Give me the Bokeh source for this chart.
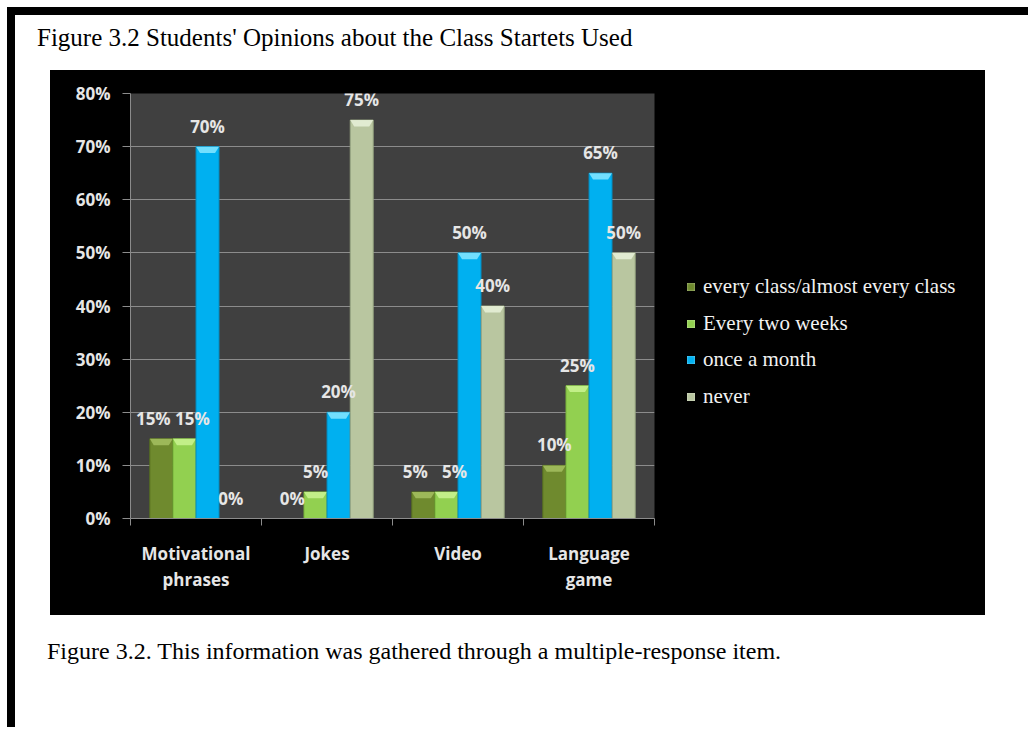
from bokeh.plotting import figure
from bokeh.models import (ColumnDataSource, Range1d, FixedTicker, NumeralTickFormatter,
                          Div, LabelSet)
from bokeh.layouts import column, row
from bokeh.core.properties import value
from bokeh.embed import file_html
from bokeh.resources import INLINE

# ---- data ----
title_text = "Figure 3.2 Students' Opinions about the Class Startets Used"
caption_text = "Figure 3.2. This information was gathered through a multiple-response item."
categories = ["Motivational\nphrases", "Jokes", "Video", "Language\ngame"]
series_names = ["every class/almost every class", "Every two weeks", "once a month", "never"]
every_class = [15, 0, 5, 10]
every_two_weeks = [15, 5, 5, 25]
once_a_month = [70, 20, 50, 65]
never = [0, 75, 40, 50]
y_ticks = [0, 10, 20, 30, 40, 50, 60, 70, 80]

series_values = [every_class, every_two_weeks, once_a_month, never]
colors = ["#6f8a2e", "#92d050", "#00b0f0", "#b9c6a0"]
top_colors = ["#a2bd5e", "#c8f28e", "#7ee4ff", "#e6eed6"]
edge_colors = ["#56701f", "#78b23a", "#0092c8", "#98a682"]

LABEL_FONT = "Open Sans"
TXT = "#e6e6e6"

# ---- main chart ----
p = figure(width=610, height=545, x_range=Range1d(0, 4), y_range=Range1d(0, 0.8),
           output_backend="svg", toolbar_location=None,
           min_border_left=80, min_border_right=6, min_border_top=23, min_border_bottom=97,
           background_fill_color="#404040", border_fill_color="black",
           outline_line_color=None, margin=(0, 0, 0, 0))

bar_w = 0.175
offsets = [-0.265, -0.088, 0.088, 0.265]
for k, vals in enumerate(series_values):
    xs = [i + 0.5 + offsets[k] for i in range(len(categories))]
    tops = [v / 100 for v in vals]
    # nudge labels apart where two neighbouring bars have the same height
    nudges = []
    for i, v in enumerate(vals):
        n = 0
        if k + 1 < len(series_values) and series_values[k + 1][i] == v and v > 0:
            n = -8
        if k > 0 and series_values[k - 1][i] == v and v > 0:
            n = 8
        nudges.append(n)
    src = ColumnDataSource(dict(x=xs, top=tops, label=[f"{v}%" for v in vals], dx=nudges))
    p.vbar(x="x", top="top", width=bar_w, source=src, fill_color=colors[k],
           line_color=edge_colors[k], line_width=1)
    # bevel on top of each bar
    txs = [[x - bar_w / 2, x + bar_w / 2, x + bar_w / 2 - 0.03, x - bar_w / 2 + 0.03] for x in xs]
    tys = [[t, t, t - 0.012, t - 0.012] for t in tops]
    p.patches(txs, tys, fill_color=top_colors[k], line_color=None, fill_alpha=0.9)
    p.add_layout(LabelSet(x="x", y="top", text="label", source=src, text_align="center",
                          text_baseline="alphabetic", y_offset=14, x_offset="dx",
                          text_font=value(LABEL_FONT), text_font_style="bold",
                          text_font_size="17px", text_color=TXT))

# axes
p.xaxis.ticker = FixedTicker(ticks=[i + 0.5 for i in range(len(categories))],
                             minor_ticks=list(range(len(categories) + 1)))
p.xaxis.major_label_overrides = {i + 0.5: c for i, c in enumerate(categories)}
p.xaxis.major_tick_line_color = None
p.xaxis.major_tick_out = 0
p.xaxis.minor_tick_line_color = "#8c8c8c"
p.xaxis.minor_tick_out = 7
p.xaxis.minor_tick_in = 0
p.xaxis.axis_line_color = "#8c8c8c"
p.xaxis.major_label_standoff = 16
p.xaxis.major_label_text_font = LABEL_FONT
p.xaxis.major_label_text_font_style = "bold"
p.xaxis.major_label_text_font_size = "17px"
p.xaxis.major_label_text_color = TXT
p.xaxis.major_label_text_line_height = 1.17

p.yaxis.ticker = FixedTicker(ticks=[t / 100 for t in y_ticks])
p.yaxis.formatter = NumeralTickFormatter(format="0%")
p.yaxis.major_tick_out = 8
p.yaxis.major_tick_in = 0
p.yaxis.minor_tick_line_color = None
p.yaxis.major_tick_line_color = "#8c8c8c"
p.yaxis.axis_line_color = "#8c8c8c"
p.yaxis.major_label_standoff = 12
p.yaxis.major_label_text_font = LABEL_FONT
p.yaxis.major_label_text_font_style = "bold"
p.yaxis.major_label_text_font_size = "17px"
p.yaxis.major_label_text_color = TXT

p.xgrid.grid_line_color = None
p.ygrid.grid_line_color = "#8c8c8c"

# ---- legend (right, black part of the chart area) ----
legend_rows = []
for k, name in enumerate(series_names):
    c = 217 + round(k * 36.7)
    legend_rows.append(
        '<div style="position:absolute;left:27px;top:' + str(c - 4) + 'px;width:8px;height:8px;'
        'background:' + colors[k] + ';box-shadow:inset 0 0 2px rgba(255,255,255,0.6);"></div>'
        '<div style="position:absolute;left:43px;top:' + str(c - 13) + 'px;line-height:24px;'
        'font-family:\'Liberation Serif\',serif;font-size:21px;color:#f2f2f2;white-space:nowrap;">'
        + name + '</div>')
legend_div = Div(text='<div style="position:relative;width:325px;height:545px;background:#000;">'
                 + "".join(legend_rows) + '</div>',
                 width=325, height=545, margin=(0, 0, 0, 0),
                 styles={"background-color": "black"})


def text_div(s, size, margin):
    html = ('<div style="font-family:\'Liberation Serif\',serif;font-size:' + str(size) + 'px;'
            'line-height:28px;color:#000;white-space:nowrap;">' + s + '</div>')
    return Div(text=html, width=950, height=28, margin=margin)


title_div = text_div(title_text, 25, (9, 0, 0, 22))
caption_div = text_div(caption_text, 24, (22, 0, 0, 32))

chart = row(p, legend_div, margin=(18, 0, 0, 35), styles={"background-color": "black"})

top_bar = Div(text="", width=1021, height=8, margin=(7, 0, 0, 7),
              styles={"background-color": "black"})
left_bar = Div(text="", width=8, height=712, margin=(0, 0, 0, 7),
               styles={"background-color": "black"})
content = column(title_div, chart, caption_div, margin=(0, 0, 0, 0))
root = column(top_bar, row(left_bar, content, margin=(0, 0, 0, 0)), margin=(0, 0, 0, 0))

open("out.html", "w").write(file_html(root, INLINE))
